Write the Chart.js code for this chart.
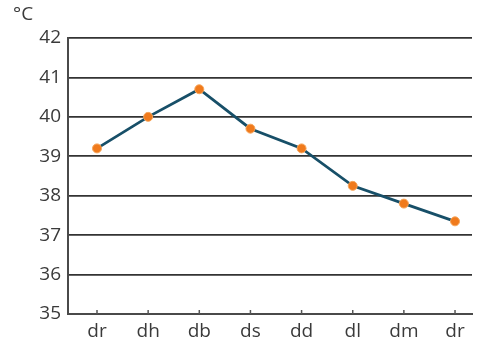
<!DOCTYPE html>
<html lang="en">
<head>
    <meta charset="UTF-8">
    <title>Temperature chart</title>
    <script src="https://cdn.jsdelivr.net/npm/chart.js"></script>
    <style>
        html, body { margin: 0; padding: 0; background: #fff; }
        .wrap { position: relative; width: 483px; height: 340px; }
    </style>
</head>
<body>
    <div class="wrap">
        <canvas id="tempChart" width="483" height="340"></canvas>
    </div>

    <script>
        const dayLabels = ['dr', 'dh', 'db', 'ds', 'dd', 'dl', 'dm', 'dr'];
        const temps = [39.2, 40.0, 40.7, 39.7, 39.2, 38.25, 37.8, 37.35];
        const unitLabel = '°C';
        const yMin = 35, yMax = 42;

        const textColor = '#3a3a3a';
        const fontFamily = "'Open Sans', 'Noto Sans', sans-serif";

        // small tick marks pointing up from the x axis, plus the unit label
        const extras = {
            id: 'extras',
            afterDraw(chart) {
                const ctx = chart.ctx;
                const x = chart.scales.x;
                const bottom = chart.chartArea.bottom;
                ctx.save();
                ctx.strokeStyle = '#555';
                ctx.lineWidth = 1.5;
                x.ticks.forEach(t => {
                    const px = x.getPixelForValue(t.value);
                    ctx.beginPath();
                    ctx.moveTo(px, bottom);
                    ctx.lineTo(px, bottom - 4);
                    ctx.stroke();
                });
                ctx.fillStyle = textColor;
                ctx.font = '19px ' + fontFamily;
                ctx.textBaseline = 'top';
                ctx.fillText(unitLabel, 13, 5);
                ctx.restore();
            }
        };

        new Chart(document.getElementById('tempChart'), {
            type: 'line',
            data: {
                datasets: [{
                    data: temps.map((v, i) => ({ x: i, y: v })),
                    borderColor: '#174f68',
                    borderWidth: 2.8,
                    tension: 0,
                    pointRadius: 4.5,
                    pointBackgroundColor: '#f07a1c',
                    pointBorderColor: '#f6a55a',
                    pointBorderWidth: 1
                }]
            },
            options: {
                responsive: false,
                animation: false,
                layout: { padding: { top: 38, right: 11, left: 0, bottom: 0 } },
                plugins: {
                    legend: { display: false },
                    tooltip: { enabled: false }
                },
                scales: {
                    x: {
                        type: 'linear',
                        min: -0.567,
                        max: 7.332,
                        afterBuildTicks: scale => {
                            scale.ticks = dayLabels.map((_, i) => ({ value: i }));
                        },
                        afterFit: scale => { scale.height = 26; },
                        ticks: {
                            callback: v => dayLabels[v],
                            color: textColor,
                            font: { size: 19, family: fontFamily },
                            padding: 6,
                            maxRotation: 0,
                            autoSkip: false
                        },
                        grid: { drawOnChartArea: false, drawTicks: false },
                        border: { color: '#4a4a4a', width: 2 }
                    },
                    y: {
                        min: yMin,
                        max: yMax,
                        afterFit: scale => { scale.width = 68; },
                        ticks: {
                            stepSize: 1,
                            color: textColor,
                            font: { size: 19, family: fontFamily },
                            padding: 7
                        },
                        grid: { color: '#333', lineWidth: 1.8, drawTicks: false },
                        border: { color: '#4a4a4a', width: 2 }
                    }
                }
            },
            plugins: [extras]
        });
    </script>
</body>
</html>
